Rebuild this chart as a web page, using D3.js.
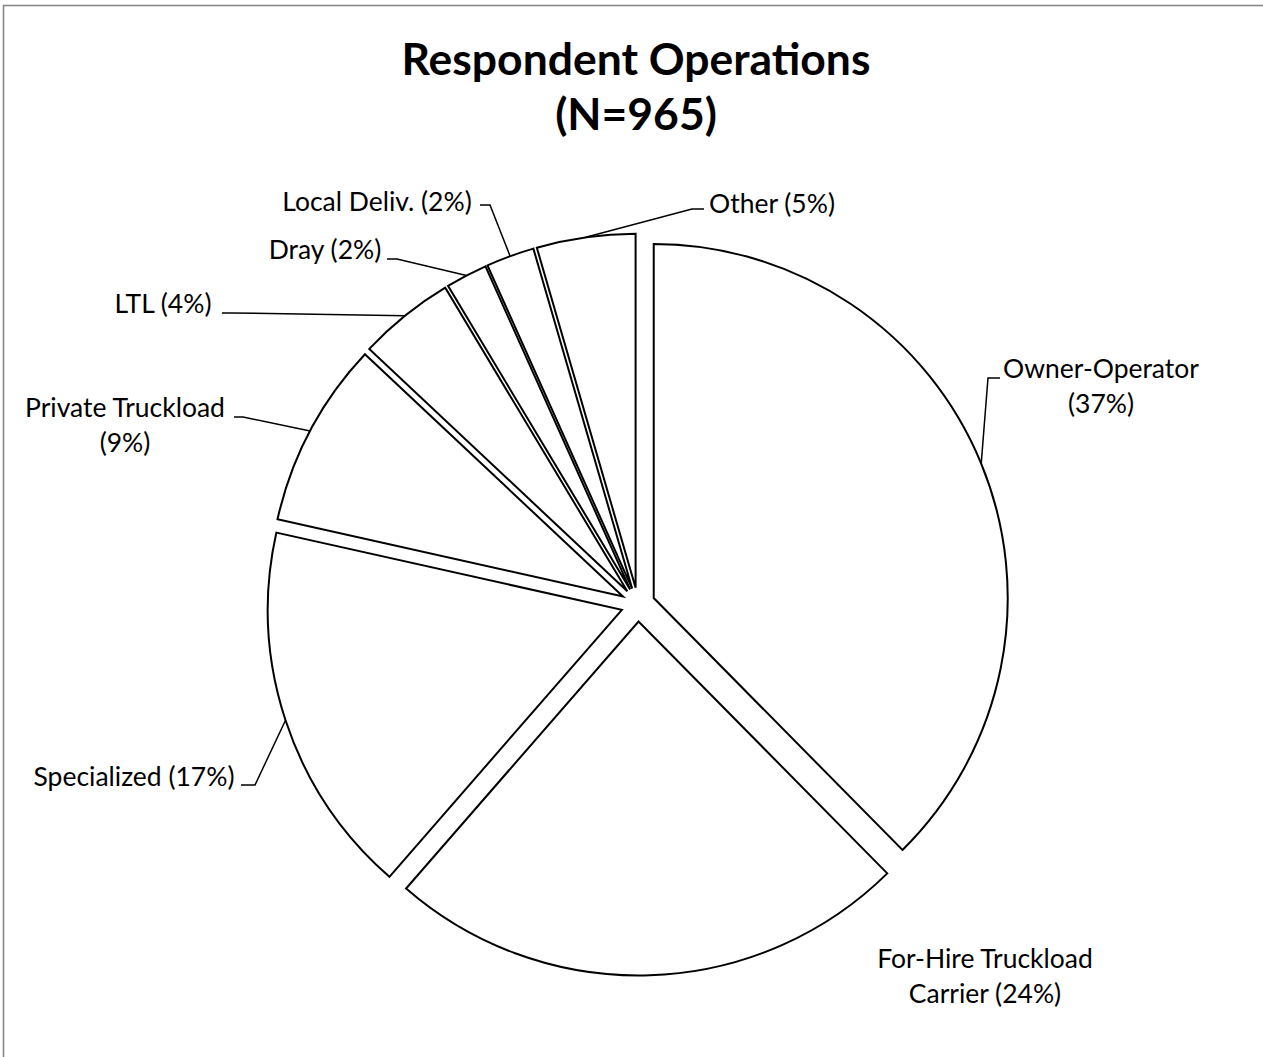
<!DOCTYPE html>
<html>
<head>
<meta charset="utf-8">
<script src="https://cdn.jsdelivr.net/npm/d3@7"></script>
<style>
  html, body { margin: 0; padding: 0; background: #fff; }
  svg { display: block; }
</style>
</head>
<body>
<script>
// ---- data ----
const categories = ["Owner-Operator", "For-Hire Truckload Carrier", "Specialized", "Private Truckload",
                    "LTL", "Dray", "Local Deliv.", "Other"];
const shares = [37.6, 23.8, 17.1, 8.5, 4.4, 1.9, 2.2, 4.5];   // percent of respondents (slice sizes)
const labelLines = [
  ["Owner-Operator", "(37%)"],
  ["For-Hire Truckload", "Carrier (24%)"],
  ["Specialized (17%)"],
  ["Private Truckload", "(9%)"],
  ["LTL (4%)"],
  ["Dray (2%)"],
  ["Local Deliv. (2%)"],
  ["Other (5%)"]
];
const titleLines = ["Respondent Operations", "(N=965)"];

// ---- layout ----
const W = 1263, H = 1057;
const cx = 638, cy = 604.5, R = 354, explode = 17;
const FONT = "Lato, 'Open Sans', 'Noto Sans', sans-serif";
// label layout: text centre x, first baseline, elbow point, leader end (null => no leader)
const labelLayout = [
  {x: 1101, y: 378, elbow: [988, 378], end: [1000, 378]},
  {x: 985,  y: 968, elbow: null, end: null},
  {x: 134,  y: 786, elbow: [255, 785], end: [241, 785]},
  {x: 125,  y: 417, elbow: [243, 417], end: [234, 417]},
  {x: 163,  y: 313, elbow: [232, 313], end: [222, 313]},
  {x: 325,  y: 259, elbow: [397, 259], end: [387, 259]},
  {x: 377,  y: 211, elbow: [490, 205], end: [480, 205]},
  {x: 772,  y: 213, elbow: [692, 209], end: [704, 209]}
];
const lineGap = 35;

const svg = d3.select("body").append("svg").attr("width", W).attr("height", H);

// chart frame (extends beyond the window on the right/bottom)
svg.append("rect")
  .attr("x", 3.5).attr("y", 5.5).attr("width", W + 20).attr("height", H + 20)
  .attr("fill", "#fff").attr("stroke", "#878787").attr("stroke-width", 1.6);

// helper: fit font size so a string reaches a target width
function fitSize(text, weight, targetWidth) {
  const t = svg.append("text").attr("font-family", FONT).attr("font-weight", weight)
    .attr("font-size", 100).text(text);
  const w = t.node().getComputedTextLength();
  t.remove();
  return 100 * targetWidth / w;
}

// title
const titleSize = fitSize(titleLines[0], "bold", 469);
svg.append("g").selectAll("text").data(titleLines).join("text")
  .attr("x", 636).attr("y", (d, i) => 75 + i * 55)
  .attr("text-anchor", "middle")
  .attr("font-family", FONT).attr("font-weight", "bold").attr("font-size", titleSize)
  .attr("fill", "#000").text(d => d);

// pie
const pie = d3.pie().sort(null).value(d => d).startAngle(0).endAngle(2 * Math.PI);
const arcs = pie(shares);
const arc = d3.arc().innerRadius(0).outerRadius(R);

const g = svg.append("g").attr("transform", `translate(${cx},${cy})`);
g.selectAll("path").data(arcs).join("path")
  .attr("d", arc)
  .attr("transform", d => {
    const m = (d.startAngle + d.endAngle) / 2;
    return `translate(${explode * Math.sin(m)},${-explode * Math.cos(m)})`;
  })
  .attr("fill", "#fff").attr("stroke", "#000").attr("stroke-width", 2)
  .attr("stroke-linejoin", "miter");

// labels + leaders
const labelSize = fitSize("Owner-Operator", "normal", 196);
arcs.forEach((a, i) => {
  const L = labelLayout[i];
  const m = (a.startAngle + a.endAngle) / 2;
  if (L.elbow) {
    const ax = cx + (explode + R) * Math.sin(m);
    const ay = cy - (explode + R) * Math.cos(m);
    svg.append("path")
      .attr("d", d3.line()([[ax, ay], L.elbow, L.end]))
      .attr("fill", "none").attr("stroke", "#000").attr("stroke-width", 1.5);
  }
  svg.append("g").selectAll("text").data(labelLines[i]).join("text")
    .attr("x", L.x).attr("y", (d, j) => L.y + j * lineGap)
    .attr("text-anchor", "middle")
    .attr("font-family", FONT).attr("font-size", labelSize)
    .attr("fill", "#000").text(d => d);
});
</script>
</body>
</html>
